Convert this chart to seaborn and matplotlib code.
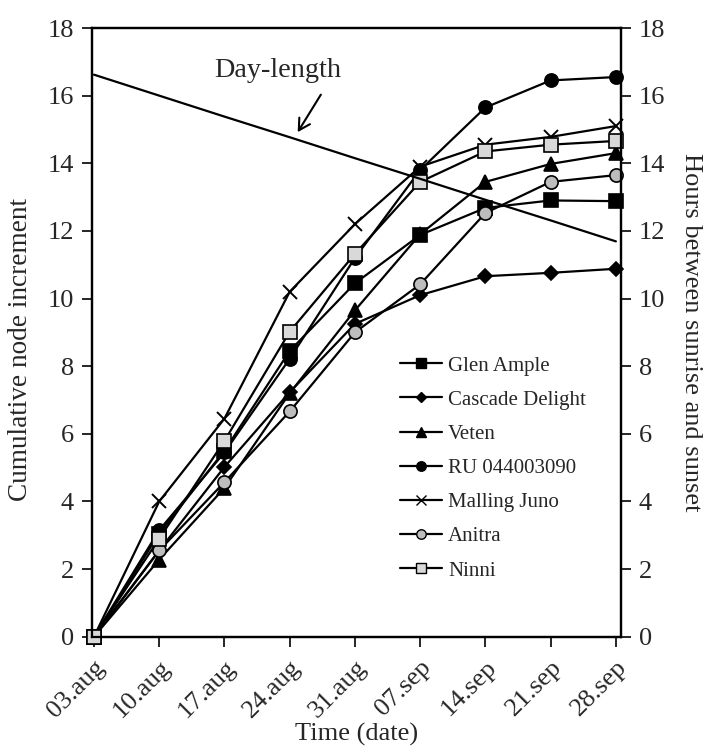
import matplotlib
matplotlib.use("Agg")
import matplotlib.pyplot as plt
import seaborn as sns
import pandas as pd
import numpy as np

dates = ["03.aug", "10.aug", "17.aug", "24.aug", "31.aug", "07.sep", "14.sep", "21.sep", "28.sep"]

glen_ample = [0, 3.05, 5.5, 8.45, 10.45, 11.88, 12.68, 12.9, 12.88]
cascade_delight = [0, 2.55, 5.02, 7.23, 9.25, 10.1, 10.66, 10.76, 10.88]
veten = [0, 2.28, 4.4, 7.2, 9.65, 11.9, 13.45, 13.98, 14.3]
ru_044003090 = [0, 3.15, 5.45, 8.22, 11.2, 13.8, 15.65, 16.45, 16.55]
malling_juno = [0, 4.0, 6.45, 10.2, 12.2, 13.9, 14.55, 14.78, 15.1]
anitra = [0, 2.55, 4.57, 6.66, 9.0, 10.42, 12.53, 13.45, 13.65]
ninni = [0, 2.9, 5.79, 9.02, 11.32, 13.45, 14.35, 14.55, 14.66]

day_length = [16.62, 16.0, 15.38, 14.77, 14.15, 13.54, 12.92, 12.31, 11.69]

series_names = ["Glen Ample", "Cascade Delight", "Veten", "RU 044003090", "Malling Juno", "Anitra", "Ninni"]
series_vals = [glen_ample, cascade_delight, veten, ru_044003090, malling_juno, anitra, ninni]

styles = {
    "Glen Ample": dict(marker="s", mfc="black", ms=9.5),
    "Cascade Delight": dict(marker="D", mfc="black", ms=7),
    "Veten": dict(marker="^", mfc="black", ms=9.5),
    "RU 044003090": dict(marker="o", mfc="black", ms=9.5),
    "Malling Juno": dict(marker="x", mfc="black", ms=9.5),
    "Anitra": dict(marker="o", mfc="#bdbdbd", ms=9.5),
    "Ninni": dict(marker="s", mfc="#d9d9d9", ms=9.5),
}

sns.set_style("ticks")
plt.rcParams["font.family"] = ["Liberation Serif", "DejaVu Serif"]

xpos = np.arange(len(dates))
rows = []
for name, vals in zip(series_names, series_vals):
    for i, v in enumerate(vals):
        rows.append({"pos": xpos[i], "value": v, "variety": name})
df = pd.DataFrame(rows)

fig = plt.figure(figsize=(7.08, 7.47), dpi=100)
ax = fig.add_axes([0.130, 0.1477, 0.747, 0.8148])

handles = []
for name in series_names:
    st = styles[name]
    sub = df[df["variety"] == name]
    sns.lineplot(data=sub, x="pos", y="value", ax=ax, color="black", lw=1.6,
                 marker=st["marker"], markersize=st["ms"], markerfacecolor=st["mfc"],
                 markeredgecolor="black", markeredgewidth=1.2 if st["marker"] != "x" else 1.4,
                 legend=False, sort=False, zorder=3, clip_on=False)
    h, = ax.plot([], [], color="black", lw=1.6, marker=st["marker"],
                 markersize=st["ms"] * 0.72, markerfacecolor=st["mfc"], markeredgecolor="black",
                 markeredgewidth=1.0)
    handles.append(h)

ax2 = ax.twinx()
dl = pd.DataFrame({"pos": xpos, "hours": day_length})
sns.lineplot(data=dl, x="pos", y="hours", ax=ax2, color="black", lw=1.6, legend=False)

for a in (ax, ax2):
    a.set_xlim(-0.03, 8.077)
    a.set_ylim(0, 18)
    a.set_yticks(np.arange(0, 19, 2))
    for s in a.spines.values():
        s.set_linewidth(1.6)
        s.set_color("black")

ax.set_xticks(xpos)
ax.set_xticklabels(dates, rotation=45, ha="right", rotation_mode="anchor", fontsize=19)
ax.tick_params(axis="x", length=7, width=1.4, direction="out", pad=7)
ax.tick_params(axis="y", length=7, width=1.4, direction="out", labelsize=19, pad=6)
ax2.tick_params(axis="y", length=7, width=1.4, direction="out", labelsize=19, pad=6)

ax.set_xlabel("Time (date)", fontsize=19)
ax.xaxis.set_label_coords(0.5, -0.141)
ax.set_ylabel("Cumulative node increment", fontsize=19.6)
ax.yaxis.set_label_coords(-0.112, 0.471)
ax2.set_ylabel("Hours between sunrise and sunset", fontsize=19, rotation=270, labelpad=26)

ax2.annotate("", xy=(3.1, 14.85), xytext=(3.5, 16.1),
             arrowprops=dict(arrowstyle="->,head_length=0.8,head_width=0.45", color="black", lw=1.5))
ax2.text(2.82, 16.75, "Day-length", fontsize=20.3, ha="center", va="center")

leg = ax.legend(handles, series_names, loc="upper left", bbox_to_anchor=(400 / 708, 1 - 356 / 747),
                bbox_transform=fig.transFigure, frameon=False, fontsize=15, handlelength=2.0,
                handletextpad=0.3, labelspacing=0.7, borderpad=0, borderaxespad=0)

fig.savefig("out.png", dpi=100)
